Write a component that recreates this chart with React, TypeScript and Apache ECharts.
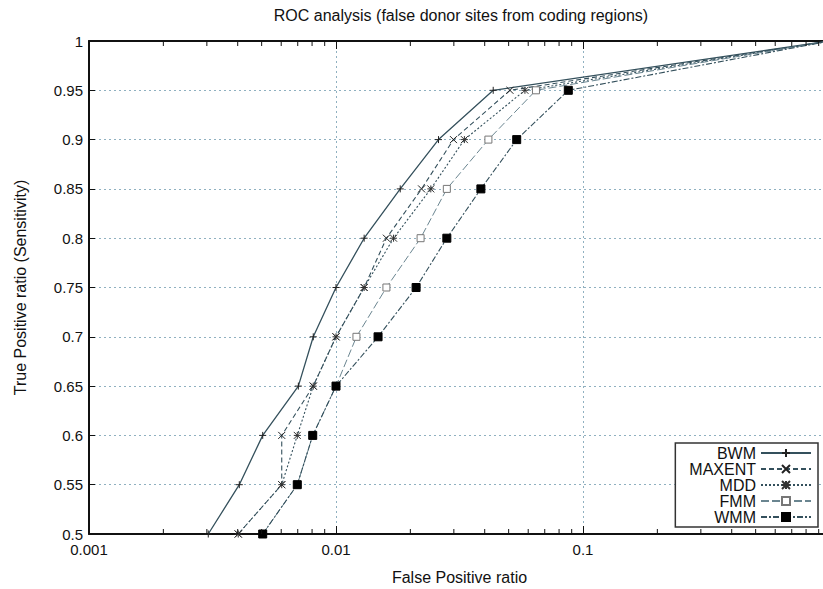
import React, { useEffect, useRef } from "react";
import * as echarts from "echarts";

// True positive ratio levels (y values)
const tpr = [0.5, 0.55, 0.6, 0.65, 0.7, 0.75, 0.8, 0.85, 0.9, 0.95, 1.0];
// False positive ratio (x values) per method, one per tpr level
const bwm = [0.00304, 0.00406, 0.00505, 0.00704, 0.00809, 0.01, 0.013, 0.0182, 0.026, 0.0433, 1];
const maxent = [0.00402, 0.00603, 0.00603, 0.00809, 0.01, 0.013, 0.016, 0.0222, 0.0299, 0.0506, 1];
const mdd = [0.00402, 0.00603, 0.00697, 0.00809, 0.01, 0.013, 0.0171, 0.0242, 0.0331, 0.0582, 1];
const fmm = [0.00505, 0.00697, 0.00805, 0.01, 0.0121, 0.016, 0.022, 0.0281, 0.0414, 0.0645, 1];
const wmm = [0.00505, 0.00697, 0.00805, 0.01, 0.0148, 0.0211, 0.0281, 0.0386, 0.0539, 0.0872, 1];

const seriesNames = ["BWM", "MAXENT", "MDD", "FMM", "WMM"];
const xTickLabels = ["0.001", "0.01", "0.1"];
const minorTicks = [
  0.002, 0.003, 0.004, 0.005, 0.006, 0.007, 0.008, 0.009,
  0.02, 0.03, 0.04, 0.05, 0.06, 0.07, 0.08, 0.09,
  0.2, 0.3, 0.4, 0.5, 0.6, 0.7, 0.8, 0.9,
];

const FONT = '"Liberation Sans", Arial, sans-serif';
const LINE = "#34505c";

const PLUS = "path://M0,5L10,5M5,0L5,10";
const CROSS = "path://M0,0L10,10M10,0L0,10";
const STAR = "path://M0,0L10,10M10,0L0,10M5,0L5,10M0,5L10,5";

function pairs(xs: number[]) {
  return xs.map((x, i) => [x, tpr[i]]);
}

export default function App() {
  const ref = useRef<HTMLDivElement>(null);
  useEffect(() => {
    if (!ref.current) return;
    const chart = echarts.init(ref.current, null, { renderer: "svg" });
    const mk = (
      name: string,
      xs: number[],
      symbol: string,
      size: number,
      type: any,
      fill: string,
      border: string,
      lineColor: string,
      width: number
    ) => ({
      name,
      type: "line",
      data: pairs(xs),
      symbol,
      symbolSize: size,
      showAllSymbol: true,
      lineStyle: { color: lineColor, width, type },
      itemStyle: { color: fill, borderColor: border, borderWidth: 1 },
      z: 3,
    });
    chart.setOption({
      animation: false,
      backgroundColor: "#ffffff",
      textStyle: { fontFamily: FONT },
      graphic: [
        {
          type: "text",
          x: 461,
          y: 7,
          style: {
            text: "ROC analysis (false donor sites from coding regions)",
            fontSize: 16,
            fontFamily: FONT,
            fill: "#111",
            align: "center",
            verticalAlign: "top",
          },
        },
      ],
      grid: { left: 89, width: 741, top: 41, height: 493, outerBoundsMode: "none", containLabel: false },
      legend: {
        data: seriesNames,
        orient: "vertical",
        right: 5,
        bottom: 62,
        align: "right",
        itemWidth: 50,
        itemHeight: 10,
        itemGap: 0,
        backgroundColor: "#ffffff",
        borderColor: "#333",
        borderWidth: 1.5,
        borderRadius: 0,
        padding: [2, 6, 2, 14],
        textStyle: { fontSize: 16, fontFamily: FONT, color: "#111" },
        z: 10,
      },
      xAxis: [
        {
          type: "log",
          logBase: 10,
          min: 0.001,
          max: 1,
          name: "False Positive ratio",
          nameLocation: "middle",
          nameGap: 35,
          nameTextStyle: { fontSize: 16, color: "#111", fontFamily: FONT },
          axisLine: { show: true, lineStyle: { color: "#111", width: 2 } },
          axisTick: { show: true, inside: true, length: 8, lineStyle: { color: "#111" } },
          axisLabel: {
            fontSize: 15,
            color: "#111",
            margin: 8,
            formatter: (v: number) => {
              const s = xTickLabels.find((t) => Math.abs(parseFloat(t) - v) < v * 1e-6);
              return s || "";
            },
          },
          splitLine: { show: true, lineStyle: { color: "#8fb0c0", type: [2, 3], width: 1 } },
        },
        {
          type: "log",
          logBase: 10,
          min: 0.001,
          max: 1,
          position: "top",
          axisLine: { show: true, lineStyle: { color: "#111", width: 2 } },
          axisTick: { show: true, inside: true, length: 8, lineStyle: { color: "#111" } },
          axisLabel: { show: false },
          splitLine: { show: false },
        },
      ],
      yAxis: {
        type: "value",
        min: 0.5,
        max: 1,
        interval: 0.05,
        name: "True Positive ratio (Sensitivity)",
        nameLocation: "middle",
        nameGap: 61,
        nameTextStyle: { fontSize: 16, color: "#111", fontFamily: FONT },
        axisLine: { show: true, lineStyle: { color: "#111", width: 2 } },
        axisTick: { show: true, inside: true, length: 6, lineStyle: { color: "#111" } },
        axisLabel: { fontSize: 15, color: "#111", margin: 6 },
        splitLine: { show: true, lineStyle: { color: "#8fb0c0", type: [2, 3], width: 1 } },
      },
      series: [
        mk("BWM", bwm, PLUS, 7, "solid", "#222", "#222", LINE, 1.3),
        mk("MAXENT", maxent, CROSS, 7, [5, 3], "#222", "#222", LINE, 1.1),
        mk("MDD", mdd, STAR, 7, [2, 2], "#333", "#333", LINE, 1.1),
        mk("FMM", fmm, "rect", 7, [8, 3], "#ffffff", "#777", "#6a8590", 1),
        mk("WMM", wmm, "rect", 8, [6, 2, 2, 2], "#000", "#000", LINE, 1.1),
        {
          type: "custom",
          name: "minor",
          data: minorTicks.map((v) => [v, 0.5]),
          silent: true,
          clip: false,
          z: 4,
          renderItem: (params: any, api: any) => {
            const v = api.value(0);
            const b = api.coord([v, 0.5]);
            const t = api.coord([v, 1]);
            return {
              type: "group",
              children: [
                { type: "line", shape: { x1: b[0], y1: b[1], x2: b[0], y2: b[1] - 5 }, style: { stroke: "#111", lineWidth: 1 } },
                { type: "line", shape: { x1: t[0], y1: t[1], x2: t[0], y2: t[1] + 5 }, style: { stroke: "#111", lineWidth: 1 } },
              ],
            };
          },
        },
      ],
    });
    return () => chart.dispose();
  }, []);
  return <div ref={ref} style={{ width: 823, height: 589, position: "absolute", left: 0, top: 0 }} />;
}
